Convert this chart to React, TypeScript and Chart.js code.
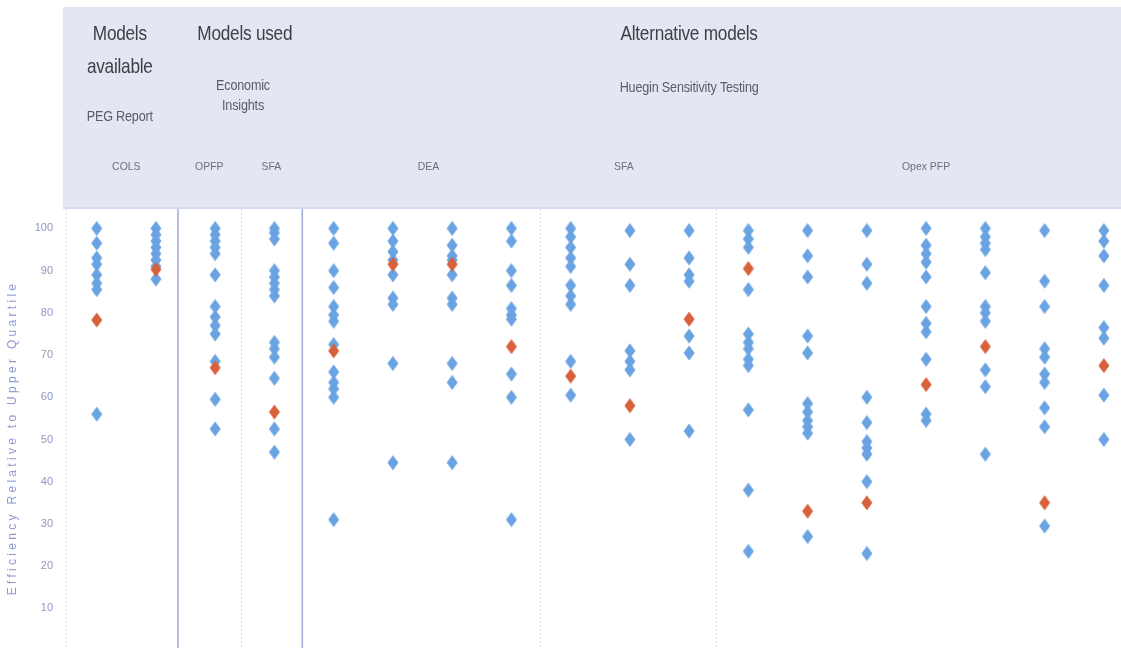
import { useEffect, useRef } from 'react';
import { Chart, registerables } from 'chart.js';

Chart.register(...registerables);

// ---- data ----
const columnLabels = [
  'PEG COLS A', 'PEG COLS B', 'EI OPFP', 'EI SFA',
  'DEA 1', 'DEA 2', 'DEA 3', 'DEA 4',
  'SFA 1', 'SFA 2', 'SFA 3',
  'Opex PFP 1', 'Opex PFP 2', 'Opex PFP 3', 'Opex PFP 4', 'Opex PFP 5', 'Opex PFP 6', 'Opex PFP 7',
];

const bluePoints: number[][] = [
  [100, 96.5, 93, 91.5, 89, 87, 85.5, 56],
  [100, 98.5, 97, 95.5, 94, 92.5, 91, 88],
  [100, 98.5, 97, 95.5, 94, 89, 81.5, 79, 77, 75, 68.5, 59.5, 52.5],
  [100, 99, 97.5, 90, 88.5, 87, 85.5, 84, 73, 71.5, 69.5, 64.5, 52.5, 47],
  [100, 96.5, 90, 86, 81.5, 79.5, 78, 72.5, 66, 63.5, 62, 60, 31],
  [100, 97, 94.5, 92.5, 89, 83.5, 82, 68, 44.5],
  [100, 96, 93.5, 92.5, 89, 83.5, 82, 68, 63.5, 44.5],
  [100, 97, 90, 86.5, 81, 79.5, 78.5, 65.5, 60, 31],
  [100, 98, 95.5, 93, 91, 86.5, 84, 82, 68.5, 60.5],
  [99.5, 91.5, 86.5, 71, 68.5, 66.5, 50],
  [99.5, 93, 89, 87.5, 74.5, 70.5, 52],
  [99.5, 97.5, 95.5, 85.5, 75, 73, 71.5, 69, 67.5, 57, 38, 23.5],
  [99.5, 93.5, 88.5, 74.5, 70.5, 58.5, 56.5, 54.5, 53, 51.5, 27],
  [99.5, 91.5, 87, 60, 54, 49.5, 48, 46.5, 40, 23],
  [100, 96, 94, 92, 88.5, 81.5, 77.5, 75.5, 69, 56, 54.5],
  [100, 98, 96.5, 95, 89.5, 81.5, 80, 78, 66.5, 62.5, 46.5],
  [99.5, 87.5, 81.5, 71.5, 69.5, 65.5, 63.5, 57.5, 53, 29.5],
  [99.5, 97, 93.5, 86.5, 76.5, 74, 60.5, 50],
];

const redPoints: number[] = [
  78.3, 90.3, 67, 56.5,
  71, 91.5, 91.5, 72,
  65, 58, 78.5,
  90.5, 33, 35, 63, 72, 35, 67.5,
];

const yTickValues = [10, 20, 30, 40, 50, 60, 70, 80, 90, 100];

const groupTitles = ['Models\navailable', 'Models used', 'Alternative models'];
const groupSubtitles = ['PEG Report', 'Economic\nInsights', 'Huegin Sensitivity Testing'];
const modelLabels = ['COLS', 'OPFP', 'SFA', 'DEA', 'SFA', 'Opex PFP'];
const yAxisTitle = 'Efficiency Relative to Upper Quartile';

// ---- helpers ----
function makeDiamond(color: string): HTMLCanvasElement {
  const c = document.createElement('canvas');
  c.width = 14;
  c.height = 18;
  const g = c.getContext('2d')!;
  (g as any).filter = 'blur(0.6px)';
  g.fillStyle = color;
  g.beginPath();
  g.moveTo(7, 1.5);
  g.lineTo(12.5, 9);
  g.lineTo(7, 16.5);
  g.lineTo(1.5, 9);
  g.closePath();
  g.fill();
  return c;
}

function drawText(
  ctx: CanvasRenderingContext2D,
  text: string,
  x: number,
  y: number,
  font: string,
  color: string,
  scaleX = 1,
  spacing = 0,
) {
  ctx.save();
  ctx.translate(x, y);
  ctx.scale(scaleX, 1);
  ctx.font = font;
  ctx.fillStyle = color;
  ctx.textAlign = 'center';
  ctx.textBaseline = 'middle';
  (ctx as any).letterSpacing = spacing + 'px';
  ctx.fillText(text, 0, 0);
  ctx.restore();
}

const headerPlugin = {
  id: 'headerPlugin',
  beforeDraw(chart: any) {
    const ctx: CanvasRenderingContext2D = chart.ctx;
    const xs = chart.scales.x;
    const area = chart.chartArea;
    const px = (v: number) => xs.getPixelForValue(v);

    // header band
    ctx.save();
    ctx.fillStyle = '#e3e7f3';
    ctx.fillRect(63, 7, chart.width - 63, area.top - 7);
    ctx.fillStyle = '#d3d9ee';
    ctx.fillRect(63, area.top - 2, chart.width - 63, 2);
    ctx.restore();

    const titleFont = '21px "Liberation Sans", Arial, sans-serif';
    const subFont = '14px "Liberation Sans", Arial, sans-serif';
    const smallFont = '11px "Liberation Sans", Arial, sans-serif';
    const titleColor = '#3f4045';
    const subColor = '#5a5c66';
    const smallColor = '#6c6f7c';

    // group titles
    const titleX = [0.39, 2.5, 10];
    groupTitles.forEach((t, i) => {
      const lines = t.split('\n');
      lines.forEach((ln, j) => {
        drawText(ctx, ln, px(titleX[i]), 34 + j * 33, titleFont, titleColor, 0.82, -0.3);
      });
    });

    // subtitles
    const subX = [0.39, 2.47, 10];
    const subY = [117, 86, 88];
    groupSubtitles.forEach((t, i) => {
      const lines = t.split('\n');
      lines.forEach((ln, j) => {
        drawText(ctx, ln, px(subX[i]), subY[i] + j * 20, subFont, subColor, 0.9, -0.2);
      });
    });

    // model labels
    const modelX = [0.5, 1.9, 2.95, 5.6, 8.9, 14];
    modelLabels.forEach((t, i) => {
      drawText(ctx, t, px(modelX[i]), 167, smallFont, smallColor, 0.95, 0);
    });
  },
  beforeDatasetsDraw(chart: any) {
    const ctx: CanvasRenderingContext2D = chart.ctx;
    const xs = chart.scales.x;
    const area = chart.chartArea;
    const px = (v: number) => xs.getPixelForValue(v);
    ctx.save();
    // faint dotted separators
    ctx.strokeStyle = '#d9ddec';
    ctx.lineWidth = 1;
    ctx.setLineDash([2, 2]);
    [-0.52, 2.435, 7.48, 10.45].forEach((v) => {
      const x = Math.round(px(v)) + 0.5;
      ctx.beginPath();
      ctx.moveTo(x, area.top);
      ctx.lineTo(x, area.bottom);
      ctx.stroke();
    });
    // solid separators
    ctx.setLineDash([]);
    ctx.strokeStyle = '#a5aedb';
    ctx.lineWidth = 1.6;
    [1.372, 3.47].forEach((v) => {
      const x = px(v);
      ctx.beginPath();
      ctx.moveTo(x, area.top);
      ctx.lineTo(x, area.bottom);
      ctx.stroke();
    });
    ctx.restore();
  },
  afterDraw(chart: any) {
    const ctx: CanvasRenderingContext2D = chart.ctx;
    ctx.save();
    ctx.translate(13, 438);
    ctx.rotate(-Math.PI / 2);
    ctx.font = '12px "Liberation Sans", Arial, sans-serif';
    ctx.fillStyle = '#8d98cf';
    ctx.textAlign = 'center';
    ctx.textBaseline = 'middle';
    (ctx as any).letterSpacing = '3.3px';
    ctx.fillText(yAxisTitle, 0, 0);
    ctx.restore();
  },
};

export default function App() {
  const canvasRef = useRef<HTMLCanvasElement | null>(null);

  useEffect(() => {
    if (!canvasRef.current) return;
    const blueImg = makeDiamond('#6aa3e2');
    const redImg = makeDiamond('#d8603a');

    const blueData = bluePoints.flatMap((vals, i) => vals.map((v) => ({ x: i, y: v })));
    const redData = redPoints.map((v, i) => ({ x: i, y: v }));

    const chart = new Chart(canvasRef.current, {
      type: 'scatter',
      data: {
        labels: columnLabels,
        datasets: [
          {
            label: 'Other DNSPs',
            data: blueData,
            order: 2,
            pointStyle: blueImg as any,
            pointRadius: 6,
            backgroundColor: '#6aa3e2',
            borderColor: '#6aa3e2',
          },
          {
            label: 'Highlighted DNSP',
            data: redData,
            order: 1,
            pointStyle: redImg as any,
            pointRadius: 6,
            backgroundColor: '#d8603a',
            borderColor: '#d8603a',
          },
        ],
      },
      options: {
        responsive: false,
        animation: false,
        devicePixelRatio: 1,
        layout: { autoPadding: false, padding: { top: 209, left: 0, right: 0, bottom: 0 } },
        plugins: {
          legend: { display: false },
          tooltip: { enabled: false },
        },
        scales: {
          x: {
            type: 'linear',
            min: -0.535,
            max: 17.29,
            display: false,
          },
          y: {
            type: 'linear',
            min: 0.6,
            max: 104.6,
            afterBuildTicks: (s: any) => {
              s.ticks = yTickValues.map((v) => ({ value: v }));
            },
            afterFit: (s: any) => {
              s.width = 65;
              s.paddingTop = 0;
              s.paddingBottom = 0;
            },
            grid: { display: false, drawTicks: false },
            border: { display: false },
            ticks: {
              padding: 12,
              color: '#8e97c4',
              font: { family: '"Liberation Sans", Arial, sans-serif', size: 11 },
            },
          },
        },
      },
      plugins: [headerPlugin],
    });
    return () => chart.destroy();
  }, []);

  return (
    <div style={{ position: 'absolute', left: 0, top: 0, width: 1121, height: 648, background: '#ffffff' }}>
      <canvas ref={canvasRef} width={1121} height={648} style={{ display: 'block' }} />
    </div>
  );
}
